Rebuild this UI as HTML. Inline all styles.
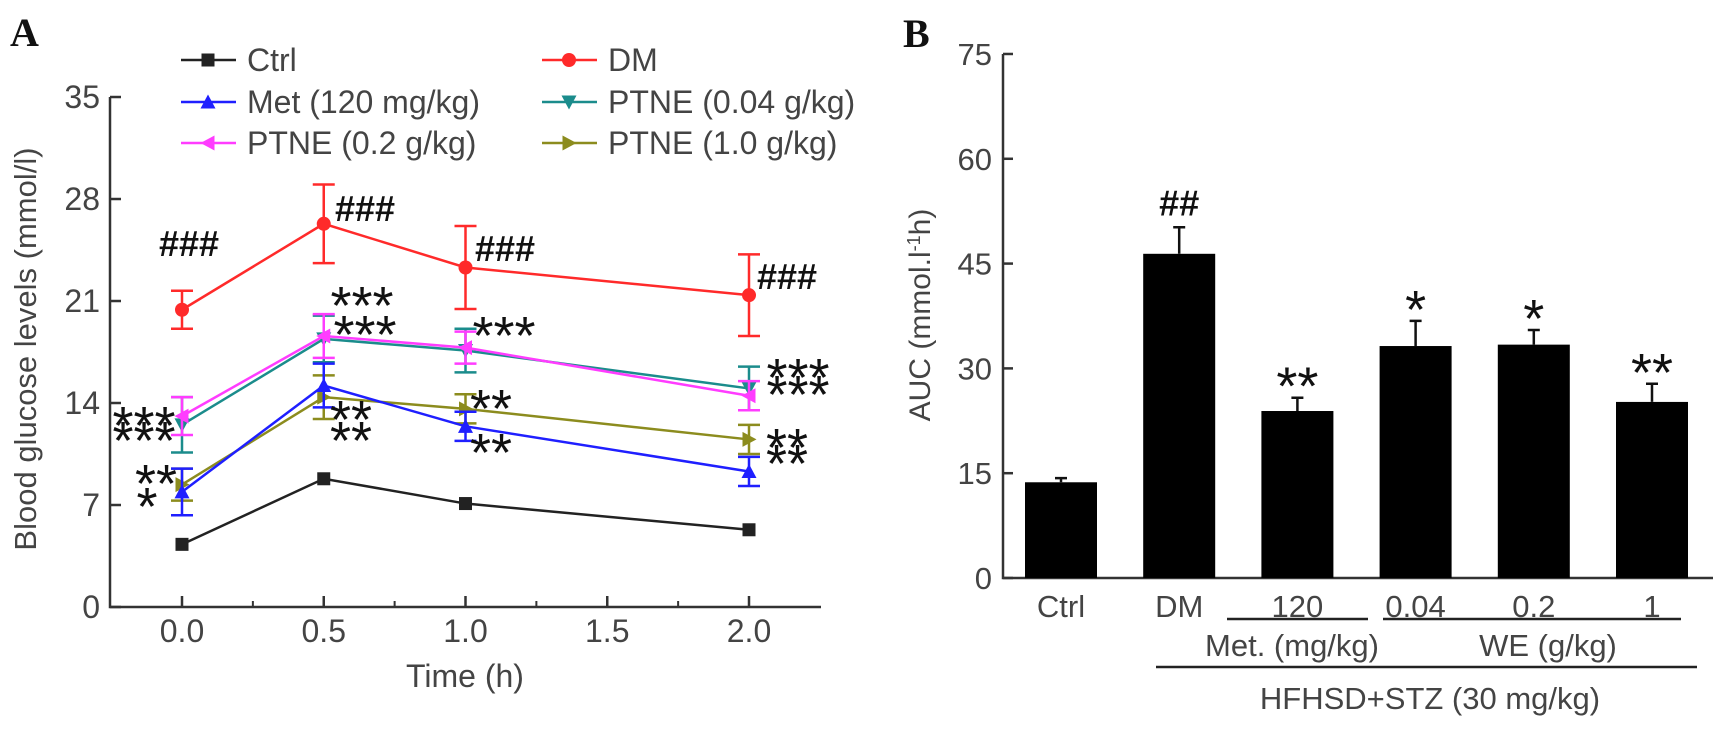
<!DOCTYPE html>
<html><head><meta charset="utf-8"><style>
html,body{margin:0;padding:0;background:#fff;}
svg{display:block;font-family:"Liberation Sans",Arial,sans-serif;}
</style></head><body>
<svg id="fig" width="1725" height="736" viewBox="0 0 1725 736" xmlns="http://www.w3.org/2000/svg">
<text x="10" y="46" font-family="Liberation Serif,serif" font-weight="bold" font-size="40" fill="#111">A</text>
<text x="903" y="47" font-family="Liberation Serif,serif" font-weight="bold" font-size="40" fill="#111">B</text>
<g id="pa"></g>
<g id="pb"></g>
</svg>
<script>
// ---- Panel A data ----
const timePoints = [0, 0.5, 1.0, 2.0];
const seriesNames = ["Ctrl","DM","Met (120 mg/kg)","PTNE (0.04 g/kg)","PTNE (0.2 g/kg)","PTNE (1.0 g/kg)"];
const ctrlValues = [4.3, 8.8, 7.1, 5.3];
const ctrlErr = [0.2, 0.3, 0.2, 0.2];
const dmValues = [20.4, 26.3, 23.3, 21.4];
const dmErr = [1.3, 2.7, 2.85, 2.8];
const metValues = [7.9, 15.2, 12.4, 9.3];
const metErr = [1.6, 1.5, 1.0, 1.0];
const ptne004Values = [12.5, 18.4, 17.6, 15.0];
const ptne004Err = [1.9, 1.6, 1.5, 1.5];
const ptne02Values = [13.1, 18.6, 17.8, 14.5];
const ptne02Err = [1.3, 1.5, 1.1, 1.0];
const ptne10Values = [8.4, 14.4, 13.6, 11.5];
const ptne10Err = [1.1, 1.5, 1.0, 1.0];
const yTicksA = [0, 7, 14, 21, 28, 35];
const xTicksA = [0.0, 0.5, 1.0, 1.5, 2.0];
const xMinorA = [0.25, 0.75, 1.25, 1.75];
// ---- Panel B data ----
const barCategories = ["Ctrl","DM","120","0.04","0.2","1"];
const barValues = [13.7, 46.4, 23.9, 33.2, 33.4, 25.2];
const barErr = [0.6, 3.8, 1.9, 3.6, 2.1, 2.6];
const barMarks = ["", "##", "**", "*", "*", "**"];
const yTicksB = [0, 15, 30, 45, 60, 75];

const NS = "http://www.w3.org/2000/svg";
function mk(parent, tag, attrs, text){
  const e = document.createElementNS(NS, tag);
  for (const k in attrs) e.setAttribute(k, attrs[k]);
  if (text !== undefined) e.textContent = text;
  parent.appendChild(e);
  return e;
}
const AX = "#333", TX = "#444";

// ===== Panel A =====
const pa = document.getElementById("pa");
const xA = t => 182 + t * 283.5;
const yA = v => 607 - v * 14.571;
let e;
e = mk(pa, "path", {d:"M110 97 L110 607 L821 607", fill:"none", stroke:AX, "stroke-width":2.5});


yTicksA.forEach(v => {
  let t = mk(pa, "line", {x1:110, x2:121, y1:yA(v), y2:yA(v), stroke:AX, "stroke-width":2.5});
  
  
  let l = mk(pa, "text", {x:100, y:yA(v)+11, "text-anchor":"end", "font-size":32, fill:TX}, String(v));
  
  
});
xTicksA.forEach(v => {
  let t = mk(pa, "line", {x1:xA(v), x2:xA(v), y1:607, y2:596, stroke:AX, "stroke-width":2.5});
  
  
  let l = mk(pa, "text", {x:xA(v), y:642, "text-anchor":"middle", "font-size":32, fill:TX}, v.toFixed(1));
  
  
});
xMinorA.forEach(v => {
  let t = mk(pa, "line", {x1:xA(v), x2:xA(v), y1:607, y2:601, stroke:AX, "stroke-width":2});
  
  
});
e = mk(pa, "text", {x:465, y:687, "text-anchor":"middle", "font-size":32, fill:TX}, "Time (h)");


e = mk(pa, "text", {x:0, y:0, "text-anchor":"middle", "font-size":31, fill:TX, transform:"translate(36,349) rotate(-90)"}, "Blood glucose levels (mmol/l)");



function marker(g, shape, cx, cy, color){
  const s = 6.5;
  let m;
  if (shape === "square") m = mk(g, "rect", {x:cx-s, y:cy-s, width:2*s, height:2*s, fill:color});
  else if (shape === "circle") m = mk(g, "circle", {cx:cx, cy:cy, r:s+0.5, fill:color});
  else {
    let p;
    if (shape === "up") p = [[cx,cy-s-1],[cx-s-1,cy+s],[cx+s+1,cy+s]];
    if (shape === "down") p = [[cx,cy+s+1],[cx-s-1,cy-s],[cx+s+1,cy-s]];
    if (shape === "left") p = [[cx-s-1,cy],[cx+s,cy-s-1],[cx+s,cy+s+1]];
    if (shape === "right") p = [[cx+s+1,cy],[cx-s,cy-s-1],[cx-s,cy+s+1]];
    m = mk(g, "polygon", {points:p.map(q=>q.join(",")).join(" "), fill:color});
  }
  
  
}
const seriesList = [
  {vals:ctrlValues, err:ctrlErr, color:"#222222", shape:"square", name:"ctrl"},
  {vals:ptne004Values, err:ptne004Err, color:"#1b8c8c", shape:"down", name:"ptne-0.04"},
  {vals:ptne02Values, err:ptne02Err, color:"#ff3cff", shape:"left", name:"ptne-0.2"},
  {vals:ptne10Values, err:ptne10Err, color:"#8c8c1e", shape:"right", name:"ptne-1.0"},
  {vals:metValues, err:metErr, color:"#1f1fff", shape:"up", name:"met"},
  {vals:dmValues, err:dmErr, color:"#ff2a2a", shape:"circle", name:"dm"}
];
seriesList.forEach(s => {
  const g = mk(pa, "g", {});
  
  
  s.vals.forEach((v,i) => {
    const x = xA(timePoints[i]);
    if (s.err[i] > 0.5) {
      const t = yA(v + s.err[i]), b = yA(v - s.err[i]);
      let eb = mk(g, "path", {d:`M${x} ${t} L${x} ${b} M${x-11} ${t} L${x+11} ${t} M${x-11} ${b} L${x+11} ${b}`, stroke:s.color, "stroke-width":2.5, fill:"none"});
      
      
    }
  });
  let ln = mk(g, "polyline", {points:s.vals.map((v,i)=>xA(timePoints[i])+","+yA(v)).join(" "), fill:"none", stroke:s.color, "stroke-width":2.5});
  
  
  s.vals.forEach((v,i) => marker(g, s.shape, xA(timePoints[i]), yA(v), s.color));
});

// legend
const legendItems = [
  {name:"Ctrl", color:"#222222", shape:"square", x:181, y:60},
  {name:"DM", color:"#ff2a2a", shape:"circle", x:542, y:60},
  {name:"Met (120 mg/kg)", color:"#1f1fff", shape:"up", x:181, y:102},
  {name:"PTNE (0.04 g/kg)", color:"#1b8c8c", shape:"down", x:542, y:102},
  {name:"PTNE (0.2 g/kg)", color:"#ff3cff", shape:"left", x:181, y:143},
  {name:"PTNE (1.0 g/kg)", color:"#8c8c1e", shape:"right", x:542, y:143}
];
legendItems.forEach(it => {
  const g = mk(pa, "g", {});
  
  
  mk(g, "line", {x1:it.x, x2:it.x+55, y1:it.y, y2:it.y, stroke:it.color, "stroke-width":2.5});
  marker(g, it.shape, it.x+27, it.y, it.color);
  let t = mk(g, "text", {x:it.x+66, y:it.y+11, "font-size":32, fill:TX}, it.name);
  
  
});

// annotations panel A: [text, centerX, centerY]
const annA = [
  ["###",189,244],["###",365,209],["###",505,249],["###",787,277],
  ["***",362,293],["***",365,322],["***",504,323],["***",798,365],["***",798,382],
  ["***",144,413],["***",144,428],["**",351,407],["**",351,428],
  ["**",491,396],["**",491,440],["**",787,435],["**",787,451],
  ["**",156,471],["*",147,494]
];
annA.forEach(a => {
  const isHash = a[0][0] === "#";
  let t = mk(pa, "text", {x:a[1], y:a[2] + (isHash ? 12 : 31), "text-anchor":"middle", "font-size": isHash ? 36 : 54, "font-weight": isHash ? "bold" : "normal", fill:"#111"}, a[0]);
  
  
});

// ===== Panel B =====
const pb = document.getElementById("pb");
const yB = v => 578 - v * 6.987;
const xB = i => 1061 + i * 118.2;
e = mk(pb, "path", {d:"M1003 54 L1003 578 L1713 578", fill:"none", stroke:AX, "stroke-width":2.5});


yTicksB.forEach(v => {
  let t = mk(pb, "line", {x1:1003, x2:1013, y1:yB(v), y2:yB(v), stroke:AX, "stroke-width":2.5});
  
  
  let l = mk(pb, "text", {x:992, y:yB(v)+11, "text-anchor":"end", "font-size":31, fill:TX}, String(v));
  
  
});
e = mk(pb, "text", {x:0, y:0, "text-anchor":"middle", "font-size":30, fill:TX, transform:"translate(930,315) rotate(-90)"});


e.innerHTML = 'AUC (mmol.l<tspan baseline-shift="super" font-size="18">-1</tspan>h)';
barValues.forEach((v,i) => {
  const cx = xB(i);
  let r = mk(pb, "rect", {x:cx-36, y:yB(v), width:72, height:578-yB(v), fill:"#000"});
  
  
  const te = yB(v + barErr[i]);
  let eb = mk(pb, "path", {d:`M${cx} ${yB(v)} L${cx} ${te} M${cx-6} ${te} L${cx+6} ${te}`, stroke:"#111", "stroke-width":2.5, fill:"none"});
  
  
  let l = mk(pb, "text", {x:cx, y:617, "text-anchor":"middle", "font-size":31, fill:TX}, barCategories[i]);
  
  
  if (barMarks[i]) {
    const isHash = barMarks[i][0] === "#";
    let m = mk(pb, "text", {x:cx, y:te - 24 + (isHash ? 12 : 31), "text-anchor":"middle", "font-size": isHash ? 36 : 54, "font-weight": isHash ? "bold" : "normal", fill:"#111"}, barMarks[i]);
    
    
  }
});
const groupLines = [[1227,1368,619],[1383,1681,619],[1156,1697,667]];
groupLines.forEach(g => {
  let l = mk(pb, "line", {x1:g[0], x2:g[1], y1:g[2], y2:g[2], stroke:"#222", "stroke-width":2.5});
  
  
});
const groupLabels = [["Met. (mg/kg)",1292,656],["WE (g/kg)",1548,656],["HFHSD+STZ (30 mg/kg)",1430,709]];
groupLabels.forEach(g => {
  let t = mk(pb, "text", {x:g[1], y:g[2], "text-anchor":"middle", "font-size":31, fill:TX}, g[0]);
  
  
});
</script>
</body></html>
